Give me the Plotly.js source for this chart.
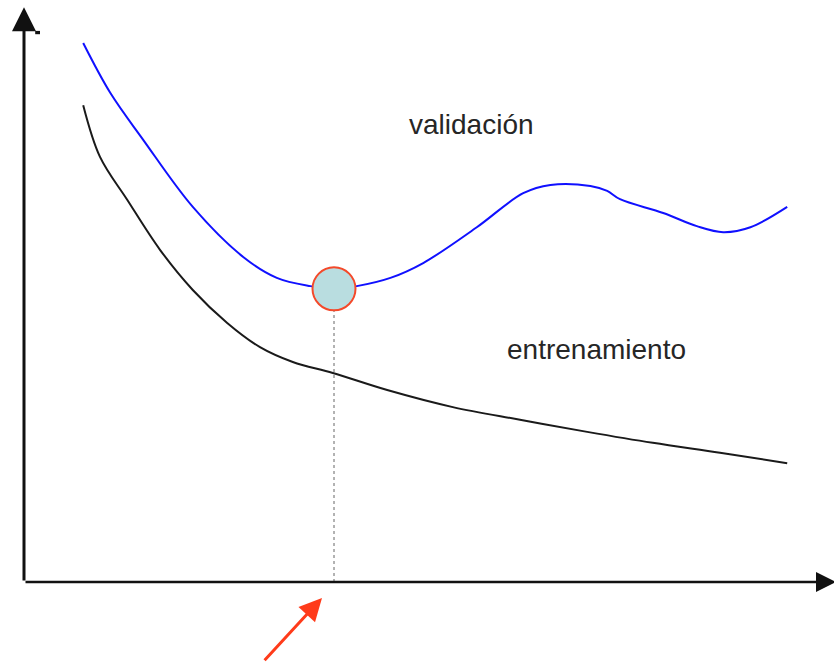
<!DOCTYPE html>
<html>
<head>
<meta charset="utf-8">
<script src="https://cdn.plot.ly/plotly-3.0.1.min.js"></script>
<style>html,body{margin:0;padding:0;background:#fff;}#chart{width:834px;height:665px;}</style>
</head>
<body>
<div id="chart"></div>
<script>
// Validation error curve (model complexity vs. error)
const validX = [7.4, 10.8, 14.9, 21.1, 27.4, 31.6, 35.8, 38.8, 41.6, 45.8, 49.9, 56.6, 62.4, 65.8, 70.8, 72.9, 74.5, 79.9, 84.1, 87.4, 90.8, 95.4];
const validY = [98.0, 88.9, 80.4, 68.2, 59.1, 55.3, 53.8, 53.3, 53.8, 55.3, 58.0, 64.5, 70.7, 72.2, 72.0, 71.1, 69.6, 67.1, 64.7, 63.6, 64.5, 68.2];
// Training error curve
const trainX = [7.4, 9.5, 12.9, 17.0, 21.1, 25.4, 29.5, 33.6, 38.6, 45.4, 53.6, 62.0, 70.4, 78.6, 87.0, 95.4];
const trainY = [86.7, 77.3, 69.5, 60.4, 53.1, 47.1, 42.7, 40.0, 38.0, 34.9, 31.8, 29.5, 27.3, 25.3, 23.5, 21.6];
// Optimum (minimum of validation error)
const optX = [38.75];
const optY = [53.3];
const labels = ["validación", "entrenamiento"];

const traces = [
  {x: [optX[0], optX[0]], y: [0, optY[0]], mode: 'lines', line: {color: '#666', width: 1, dash: 'dot'}, hoverinfo: 'skip'},
  {x: validX, y: validY, mode: 'lines', line: {color: '#1010ff', width: 2, shape: 'spline', smoothing: 1.0}},
  {x: trainX, y: trainY, mode: 'lines', line: {color: '#1a1a1a', width: 2, shape: 'spline', smoothing: 1.0}},
  {x: optX, y: optY, mode: 'markers', marker: {size: 43, color: '#b9dde0', line: {color: '#f4492a', width: 2}}}
];

const layout = {
  width: 834, height: 665,
  margin: {l: 0, r: 0, t: 0, b: 0},
  paper_bgcolor: '#fff', plot_bgcolor: '#fff',
  showlegend: false,
  font: {family: 'Liberation Sans, Arial, sans-serif'},
  xaxis: {range: [-3, 101.25], visible: false, fixedrange: true},
  yaxis: {range: [-15.09, 105.82], visible: false, fixedrange: true},
  shapes: [
    {type: 'rect', xref: 'x', yref: 'y', x0: 1.4, x1: 2.0, y0: 99.6, y1: 100.2, fillcolor: '#111', line: {width: 0}}
  ],
  annotations: [
    // y axis with arrow
    {x: 0, y: 104.5, ax: 0, ay: 0, xref: 'x', yref: 'y', axref: 'x', ayref: 'y', text: '', showarrow: true, arrowhead: 2, arrowsize: 1.6, arrowwidth: 3, arrowcolor: '#111'},
    // x axis with arrow
    {x: 101.5, y: 0, ax: 0, ay: 0, xref: 'x', yref: 'y', axref: 'x', ayref: 'y', text: '', showarrow: true, arrowhead: 2, arrowsize: 1.6, arrowwidth: 2.5, arrowcolor: '#111'},
    // red pointer arrow
    {x: 37.25, y: -2.9, ax: 29.9, ay: -14.5, xref: 'x', yref: 'y', axref: 'x', ayref: 'y', text: '', showarrow: true, arrowhead: 2, arrowsize: 1.5, arrowwidth: 3, arrowcolor: '#ff3b1a'},
    {x: 55.9, y: 83.1, xref: 'x', yref: 'y', text: labels[0], showarrow: false, font: {size: 28, color: '#262626'}},
    {x: 71.6, y: 42.2, xref: 'x', yref: 'y', text: labels[1], showarrow: false, font: {size: 28, color: '#262626'}}
  ]
};

Plotly.newPlot('chart', traces, layout, {staticPlot: true, displayModeBar: false});
</script>
</body>
</html>
